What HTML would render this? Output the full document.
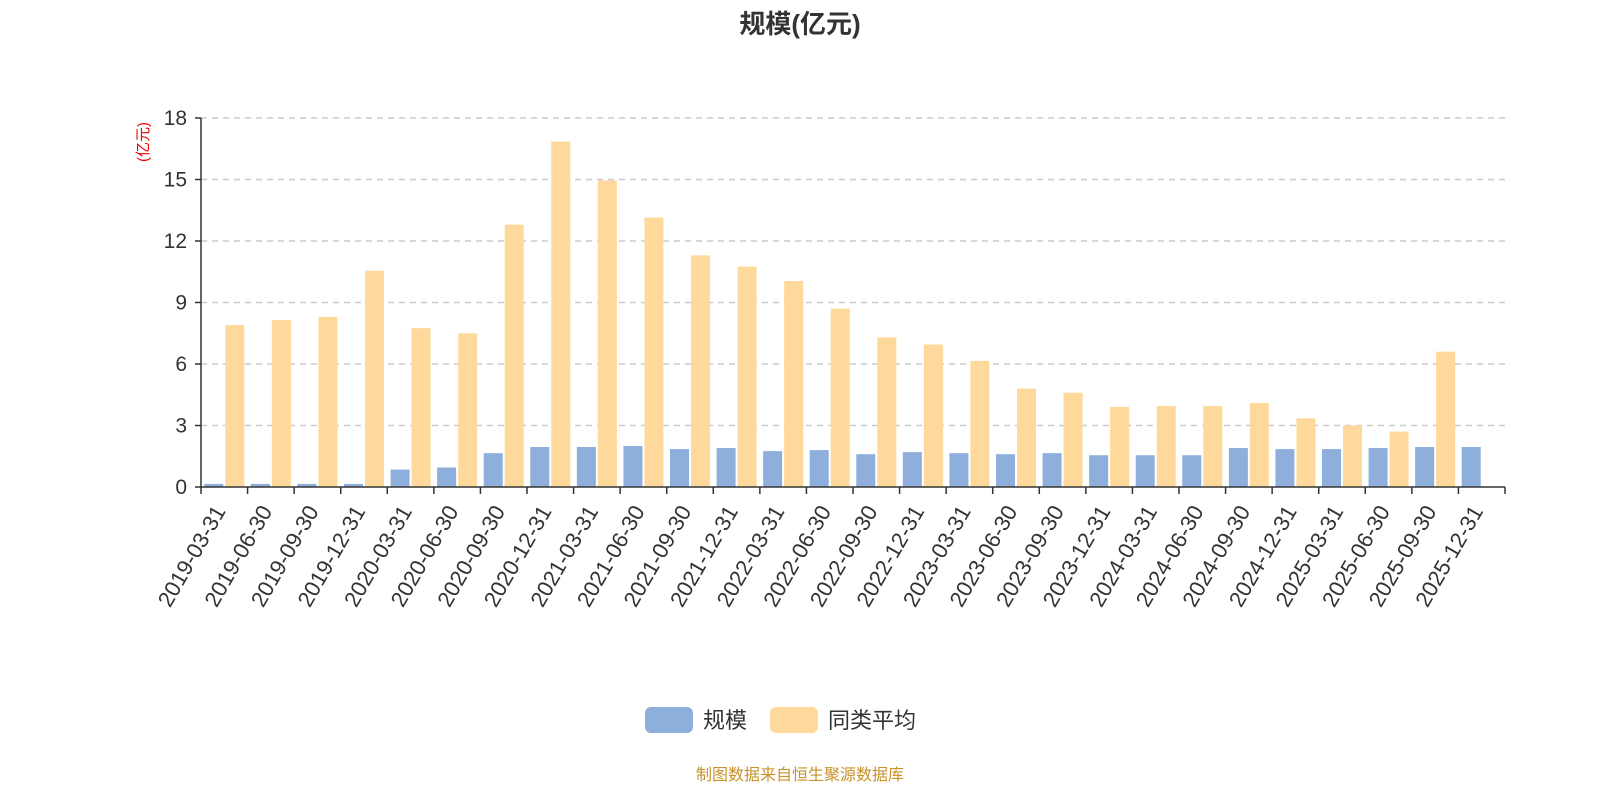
<!DOCTYPE html>
<html><head><meta charset="utf-8"><style>
body{margin:0;background:#fff;font-family:"Liberation Sans","Noto Sans CJK SC",sans-serif;}
</style></head><body>
<svg id="chart" width="1600" height="800" xmlns="http://www.w3.org/2000/svg">
<text x="800" y="33" text-anchor="middle" font-size="26" font-weight="bold" fill="#333" font-family="Liberation Sans, Noto Sans CJK SC, sans-serif">规模(亿元)</text>
<text transform="translate(148,142) rotate(-90)" text-anchor="middle" font-size="15" fill="#e00" font-family="Liberation Sans, Noto Sans CJK SC, sans-serif">(亿元)</text>
<g id="grid"></g><g id="bars"></g><g id="axes"></g>
<g>
<rect x="645" y="707" width="48" height="26" rx="6" fill="#8eaedb"/>
<text x="703" y="728" font-size="22" fill="#333" font-family="Liberation Sans, Noto Sans CJK SC, sans-serif">规模</text>
<rect x="770" y="707" width="48" height="26" rx="6" fill="#ffd99b"/>
<text x="828" y="728" font-size="22" fill="#333" font-family="Liberation Sans, Noto Sans CJK SC, sans-serif">同类平均</text>
</g>
<text x="800" y="780" text-anchor="middle" font-size="16" fill="#c8922a" font-family="Liberation Sans, Noto Sans CJK SC, sans-serif">制图数据来自恒生聚源数据库</text>
</svg>
<script>
const categories=["2019-03-31","2019-06-30","2019-09-30","2019-12-31","2020-03-31","2020-06-30","2020-09-30","2020-12-31","2021-03-31","2021-06-30","2021-09-30","2021-12-31","2022-03-31","2022-06-30","2022-09-30","2022-12-31","2023-03-31","2023-06-30","2023-09-30","2023-12-31","2024-03-31","2024-06-30","2024-09-30","2024-12-31","2025-03-31","2025-06-30","2025-09-30","2025-12-31"];
const scaleValues=[0.15,0.15,0.15,0.15,0.85,0.95,1.65,1.95,1.95,2.0,1.85,1.9,1.75,1.8,1.6,1.7,1.65,1.6,1.65,1.55,1.55,1.55,1.9,1.85,1.85,1.9,1.95,1.95];
const avgValues=[7.9,8.15,8.3,10.55,7.75,7.5,12.8,16.85,14.95,13.15,11.3,10.75,10.05,8.7,7.3,6.95,6.15,4.8,4.6,3.9,3.95,3.95,4.1,3.35,3.0,2.7,6.6,null];
const yTicks=[0,3,6,9,12,15,18];
const NS="http://www.w3.org/2000/svg";
const X0=201,X1=1505,Y0=487,Y1=118,YMAX=18;
const band=(X1-X0)/categories.length;
const y=v=>Y0-(v/YMAX)*(Y0-Y1);
const xb=i=>X0+i*band;
function mk(tag,attrs,parent){const e=document.createElementNS(NS,tag);for(const k in attrs)e.setAttribute(k,attrs[k]);parent.appendChild(e);return e;}
const grid=document.getElementById('grid'),bars=document.getElementById('bars'),axes=document.getElementById('axes');
yTicks.forEach(t=>{
 if(t>0){const g=mk('line',{x1:X0,x2:X1,y1:y(t),y2:y(t),stroke:'#ccc','stroke-width':1.5,'stroke-dasharray':'6,5'},grid);
 
 }
 const tk=mk('line',{x1:X0-6,x2:X0,y1:y(t),y2:y(t),stroke:'#333','stroke-width':1.5},axes);
 
 
 const lb=mk('text',{x:X0-14,y:y(t)+7,'text-anchor':'end','font-size':21,fill:'#333'},axes);
 lb.textContent=t;
 
 
});
const bw=19;
categories.forEach((c,i)=>{
 const bx=xb(i)+(band-2*bw-2)/2;
 const v=scaleValues[i];
 if(v!=null){const r=mk('rect',{x:bx,y:y(v),width:bw,height:Y0-y(v),fill:'#8eaedb'},bars);
 
 }
 const a=avgValues[i];
 if(a!=null){const r=mk('rect',{x:bx+bw+2,y:y(a),width:bw,height:Y0-y(a),fill:'#ffd99b'},bars);
 
 }
 const tk=mk('line',{x1:xb(i),x2:xb(i),y1:Y0,y2:Y0+7,stroke:'#333','stroke-width':1.5},axes);
 
 
 const cx=xb(i)+band/2+2;
 const lb=mk('text',{transform:`translate(${cx},${Y0+24}) rotate(-60)`,'text-anchor':'end','font-size':22,fill:'#333'},axes);
 lb.textContent=c;
 
 
});
const et=mk('line',{x1:X1,x2:X1,y1:Y0,y2:Y0+7,stroke:'#333','stroke-width':1.5},axes);


const ya=mk('line',{x1:X0,x2:X0,y1:Y1,y2:Y0,stroke:'#333','stroke-width':1.5},axes);


const xa=mk('line',{x1:X0,x2:X1,y1:Y0,y2:Y0,stroke:'#333','stroke-width':1.5},axes);


</script>
</body></html>
